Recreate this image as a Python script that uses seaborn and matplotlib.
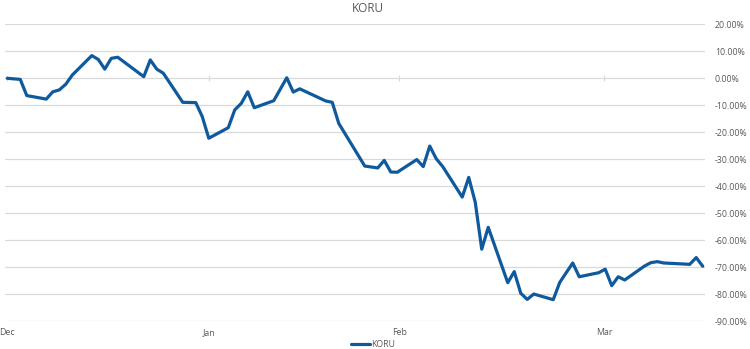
import matplotlib
matplotlib.use("Agg")
import matplotlib.pyplot as plt
import seaborn as sns
import pandas as pd
from matplotlib.ticker import FuncFormatter

# ---- data ----
days = [0, 2, 3, 6, 7, 8, 9, 10, 13, 14, 15, 16, 17, 21, 22, 23, 24, 27, 29, 30,
        31, 34, 35, 36, 37, 38, 41, 43, 44, 45, 49, 50, 51, 55, 57, 58, 59, 60,
        63, 64, 65, 66, 67, 70, 71, 72, 73, 74, 77, 78, 79, 80, 81, 84, 85, 87,
        88, 91, 92, 93, 94, 95, 98, 99, 100, 101, 105, 106, 107]
koru = [0.0, -0.4, -6.4, -7.7, -5.0, -4.3, -2.2, 1.2, 8.4, 7.0, 3.4, 7.4, 7.8,
        0.6, 6.8, 3.4, 1.9, -8.9, -9.0, -14.2, -22.2, -18.3, -11.7, -9.3, -5.0,
        -10.9, -8.3, 0.2, -5.1, -3.9, -8.4, -8.9, -16.7, -32.5, -33.2, -30.4,
        -34.7, -34.8, -30.1, -32.7, -25.1, -29.8, -32.7, -44.0, -36.7, -45.9,
        -63.3, -55.2, -75.7, -71.6, -79.6, -81.9, -79.9, -82.0, -75.6, -68.4,
        -73.5, -72.0, -70.7, -76.8, -73.5, -74.7, -69.6, -68.3, -67.9, -68.4,
        -68.9, -66.4, -69.6]
month_ticks = [0, 31, 60.3, 91.8]
month_labels = ["Dec", "Jan", "Feb", "Mar"]
y_ticks = [20, 10, 0, -10, -20, -30, -40, -50, -60, -70, -80, -90]
series_name = "KORU"

df = pd.DataFrame({"day": days, "value": koru, "series": series_name})

sns.set_style("white")
plt.rcParams["font.family"] = ["Open Sans", "DejaVu Sans"]

TXT = "#595959"
GRID = "#D9D9D9"
BLUE = "#0F5A9C"

fig = plt.figure(figsize=(7.5, 3.49), dpi=100)
ax = fig.add_axes([5 / 750, 27.7 / 349, 700 / 750, 297 / 349])

sns.lineplot(data=df, x="day", y="value", hue="series", palette=[BLUE],
             linewidth=2.3, ax=ax, legend=True)

ax.set_xlim(-0.35, 107.35)
ax.set_ylim(-90, 20)
ax.set_yticks(y_ticks)
ax.yaxis.set_major_formatter(FuncFormatter(lambda v, p: f"{v:.2f}%"))
ax.yaxis.tick_right()
ax.tick_params(axis="y", length=0, pad=7, labelsize=6.3, labelcolor=TXT)
ax.grid(axis="y", color=GRID, linewidth=0.9)
ax.grid(axis="x", visible=False)
for s in ax.spines.values():
    s.set_visible(False)
ax.set_xlabel("")
ax.set_ylabel("")

ax.set_xticks(month_ticks)
ax.set_xticklabels(month_labels)
ax.tick_params(axis="x", length=0, pad=5, labelsize=6.3, labelcolor=TXT)

# small tick marks on the zero line (category axis crossing at 0)
zero_pos = (0 - (-90)) / (20 - (-90))
sec = ax.secondary_xaxis(zero_pos)
sec.set_xticks(month_ticks)
sec.set_xticklabels([])
sec.tick_params(axis="x", direction="inout", length=4, width=0.8, color=GRID)
sec.spines["bottom"].set_visible(False)
sec.spines["top"].set_visible(False)

ax.get_legend().remove()
handles, labels = ax.get_legend_handles_labels()
fig.legend(handles, labels, loc="lower center", bbox_to_anchor=(0.497, -0.012),
           frameon=False, fontsize=6.3, labelcolor=TXT, handlelength=2.2,
           handletextpad=0.15, borderaxespad=0.1)

fig.suptitle("KORU", x=0.49, y=0.995, va="top", fontsize=8.5, color=TXT)

fig.savefig("out.png", dpi=100)
